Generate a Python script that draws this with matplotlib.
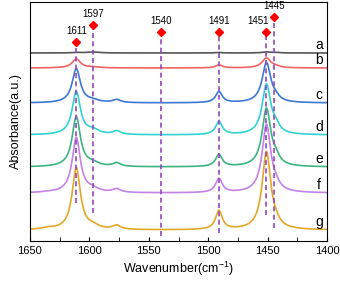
import numpy as np
import matplotlib
matplotlib.use("Agg")
import matplotlib.pyplot as plt

plt.rcParams["font.family"] = ["Liberation Sans", "DejaVu Sans"]
plt.rcParams["mathtext.fontset"] = "custom"
plt.rcParams["mathtext.rm"] = "Liberation Sans"
plt.rcParams["mathtext.default"] = "regular"

# sample names, colours and vertical offsets (stacked spectra)
samples = ["a", "b", "c", "d", "e", "f", "g"]
colors = ["#555555", "#f06464", "#3c78d2", "#30d2d2", "#3cb482", "#c382e6", "#e2a828"]
offsets = [188, 173, 138, 106, 74, 48, 11]

# band centres (cm-1) and half widths
centres = [1635, 1611, 1597, 1577, 1491, 1451, 1443]
widths = [6, 4.2, 6, 4, 3.4, 4.4, 3.5]
# peak heights of each band for each sample
heights = {
    "a": [0, 0.5, 1.0, 0, 0.5, 1.0, 0.5],
    "b": [0, 9, 0.8, 0, 3, 10, 1],
    "c": [0, 34, 2, 3, 11, 40, 3],
    "d": [0, 43, 4, 3.5, 13, 50, 6],
    "e": [0, 50, 3, 3.5, 12, 58, 6],
    "f": [0.5, 55, 3, 3.5, 14, 68, 4],
    "g": [1.5, 62, 3, 4, 19, 78, 3],
}

# marked bands: position, marker height, dashed line bottom
mark_pos = [1611, 1597, 1540, 1491, 1451, 1445]
mark_y = [199, 216, 209, 209, 209, 224]
line_bottom = [38, 28, 5, 8, 26, 13]
label_x = [1611, 1597, 1540, 1491, 1458, 1445]

wn = np.linspace(1650, 1400, 1200)

fig, ax = plt.subplots(figsize=(3.4, 2.81), dpi=100)
fig.subplots_adjust(left=0.088, right=0.962, top=0.993, bottom=0.142)

for name, col, off in zip(samples, colors, offsets):
    y = np.full_like(wn, float(off))
    for c, w, h in zip(centres, widths, heights[name]):
        y += h / (1 + ((wn - c) / w) ** 2)
    ax.plot(wn, y, color=col, lw=1.2)
    ax.text(1407, off + 1, name, fontsize=10, ha="center", va="bottom")

for p, my, lb, lx in zip(mark_pos, mark_y, line_bottom, label_x):
    ax.plot([p, p], [lb, my], color="#9646be", lw=1.2, ls=(0, (3, 2)))
    ax.plot(p, my, marker="D", color="red", ms=4, ls="none")
    ax.text(lx, my + 6, str(p), fontsize=7, ha="center", va="bottom")

ax.set_xlim(1650, 1400)
ax.set_ylim(0, 239)
ax.set_xticks([1650, 1600, 1550, 1500, 1450, 1400])
ax.set_xticks(np.arange(1400, 1651, 25), minor=True)
ax.tick_params(axis="x", direction="in", labelsize=8, length=3)
ax.tick_params(axis="x", which="minor", direction="in", length=3)
ax.set_yticks([])
ax.set_xlabel("Wavenumber(cm$^{-1}$)", fontsize=9, labelpad=3)
ax.set_ylabel("Absorbance(a.u.)", fontsize=9, labelpad=6)

fig.savefig("out.png", dpi=100)
